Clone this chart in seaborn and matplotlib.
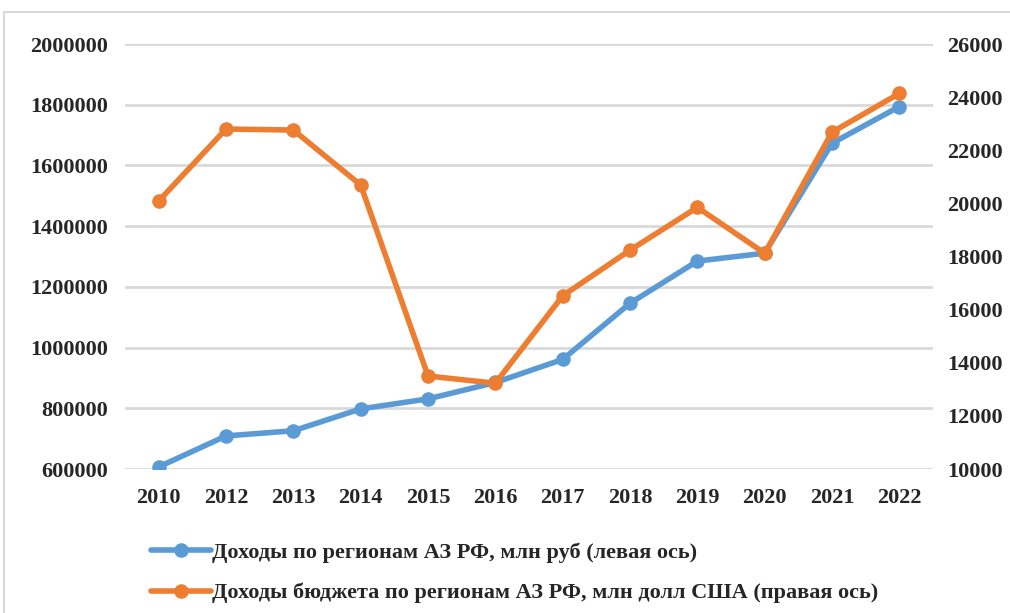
import matplotlib
matplotlib.use("Agg")
import matplotlib.pyplot as plt
import matplotlib.patches as mpatches
from matplotlib.ticker import StrMethodFormatter
import pandas as pd
import seaborn as sns

# Data
years = ["2010", "2012", "2013", "2014", "2015", "2016",
         "2017", "2018", "2019", "2020", "2021", "2022"]
income_rub = [607000, 709000, 726000, 798000, 831000, 885000,
              961000, 1146000, 1285000, 1311000, 1673000, 1794000]
budget_usd = [20090, 22800, 22760, 20690, 13500, 13230,
              16520, 18240, 19850, 18120, 22680, 24140]
label_rub = "Доходы по регионам АЗ РФ, млн руб (левая ось)"
label_usd = "Доходы бюджета по регионам АЗ РФ, млн долл США (правая ось)"
left_ticks = [600000, 800000, 1000000, 1200000, 1400000, 1600000, 1800000, 2000000]
right_ticks = [10000, 12000, 14000, 16000, 18000, 20000, 22000, 24000, 26000]

blue = "#5B9BD5"
orange = "#ED7D31"
grid_col = "#D9D9D9"
fs = 16

sns.set_style("white")
plt.rcParams["font.family"] = ["Liberation Serif", "DejaVu Serif"]
plt.rcParams["font.weight"] = "bold"

df = pd.DataFrame({"year": years, "rub": income_rub, "usd": budget_usd})

fig = plt.figure(figsize=(10.1, 6.13), dpi=100)
ax = fig.add_axes([0.1238, 0.2349, 0.80, 0.6933])
ax2 = ax.twinx()

# grid lines from left axis ticks
ax.set_ylim(600000, 2000000)
ax.set_yticks(left_ticks)
ax.yaxis.set_major_formatter(StrMethodFormatter("{x:.0f}"))
ax.yaxis.grid(True, color=grid_col, linewidth=2.0)
ax.set_axisbelow(True)

sns.lineplot(data=df, x="year", y="rub", ax=ax, color=blue, linewidth=4.0,
             marker="o", markersize=10.5, markeredgewidth=0, label=label_rub,
             legend=False, sort=False)
sns.lineplot(data=df, x="year", y="usd", ax=ax2, color=orange, linewidth=4.0,
             marker="o", markersize=10.5, markeredgewidth=0, label=label_usd,
             legend=False, sort=False)

ax2.set_ylim(10000, 26000)
ax2.set_yticks(right_ticks)
ax2.yaxis.set_major_formatter(StrMethodFormatter("{x:.0f}"))
ax.set_xlim(-0.5, len(years) - 0.5)

for a in (ax, ax2):
    for s in a.spines.values():
        s.set_visible(False)
    a.set_xlabel("")
    a.set_ylabel("")
    a.tick_params(length=0, labelsize=fs)

ax.tick_params(axis="x", pad=14)
ax.tick_params(axis="y", pad=12)
ax2.tick_params(axis="y", pad=10)
for t in ax.get_xticklabels() + ax.get_yticklabels() + ax2.get_yticklabels():
    t.set_fontweight("bold")

h1, l1 = ax.get_legend_handles_labels()
h2, l2 = ax2.get_legend_handles_labels()
leg = fig.legend(h1 + h2, l1 + l2, loc="upper left",
                 bbox_to_anchor=(0.13, 0.148), frameon=False,
                 prop={"size": fs, "weight": "bold"},
                 handlelength=2.7, handletextpad=0.05, labelspacing=0.9)

# outer chart border
fig.patches.append(mpatches.Rectangle((4 / 1010, -0.05), 1.1, 1 - 12 / 613 + 0.05,
                                      transform=fig.transFigure, fill=False,
                                      edgecolor=grid_col, linewidth=1.5))

fig.savefig("out.png", dpi=100)
